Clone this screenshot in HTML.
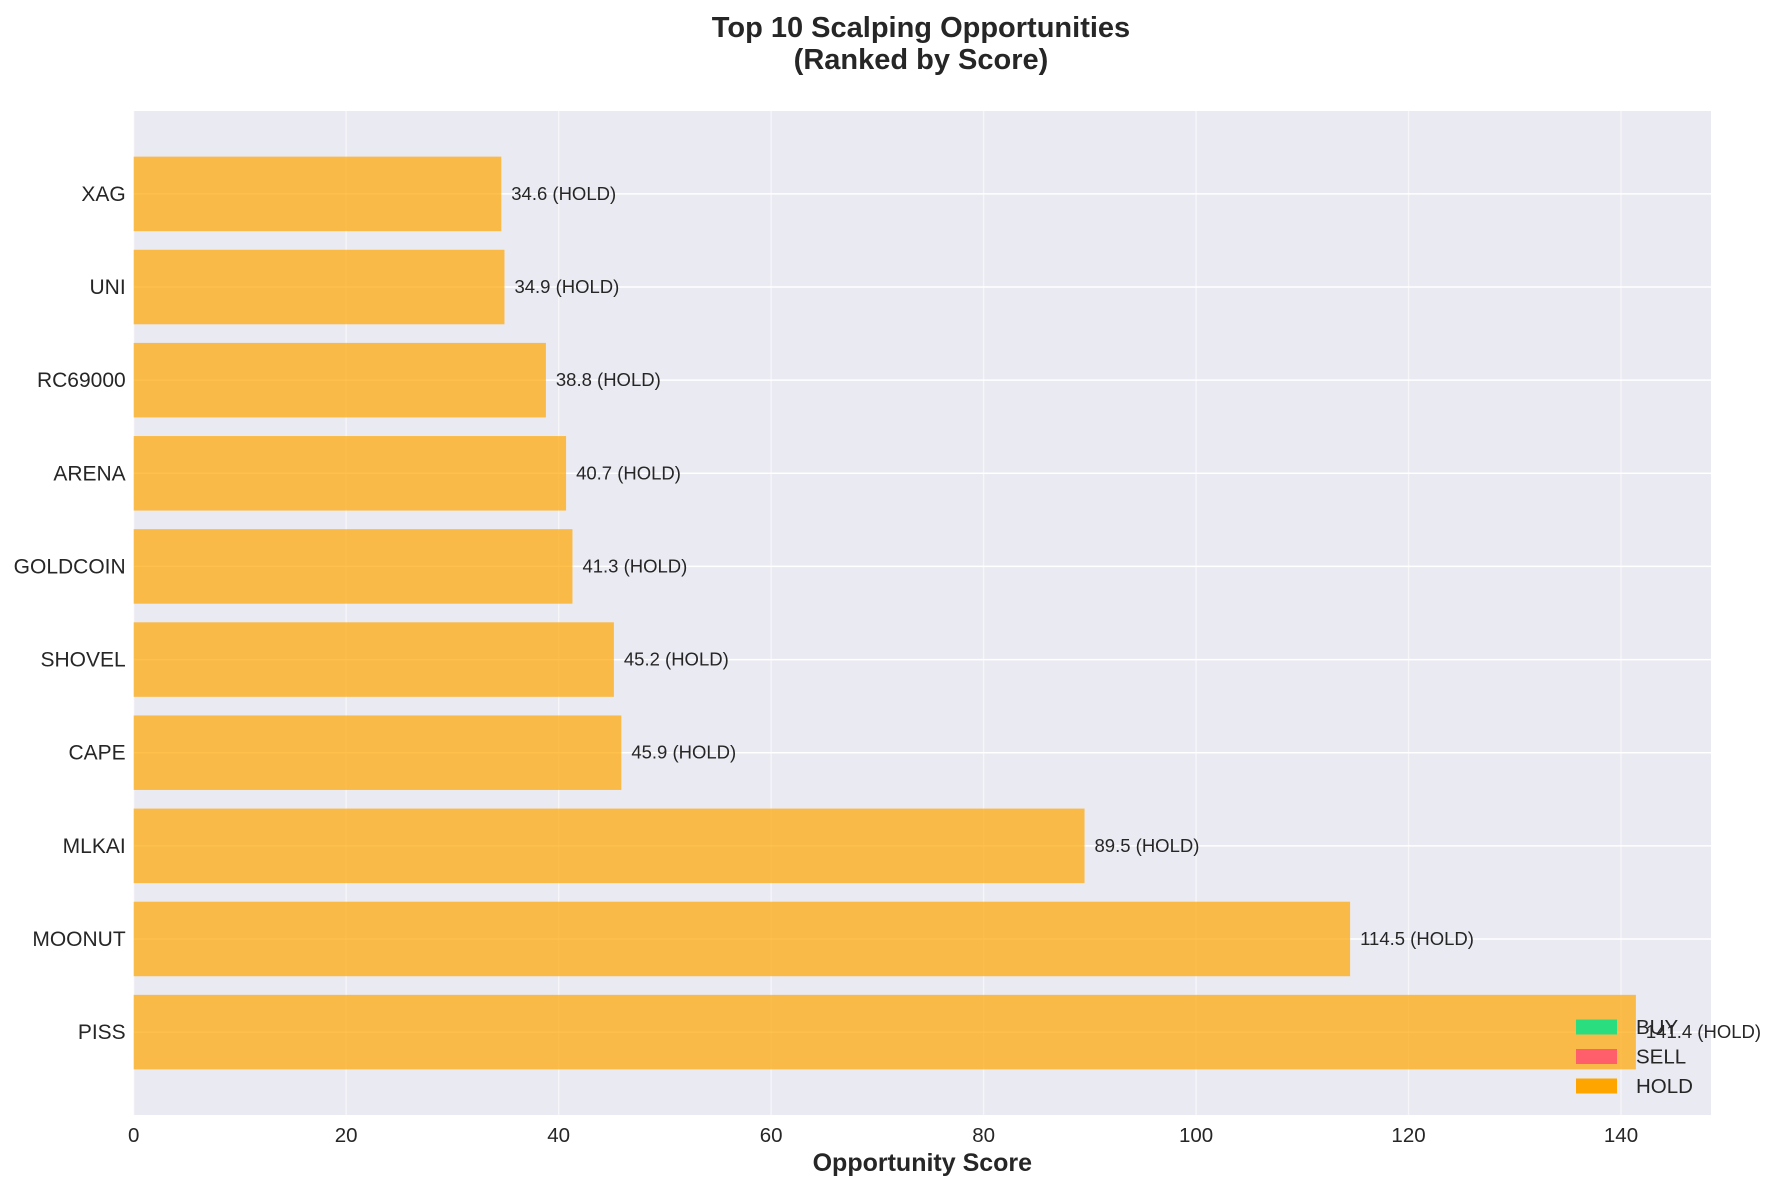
<!DOCTYPE html>
<html><head><meta charset="utf-8"><style>
body{margin:0;background:#fff;}
svg{display:block;font-family:"Liberation Sans",sans-serif;}
</style></head><body>
<svg id="chart" width="1777" height="1190"></svg>
<script>
const categories=["PISS","MOONUT","MLKAI","CAPE","SHOVEL","GOLDCOIN","ARENA","RC69000","UNI","XAG"];
const scores=[141.4,114.5,89.5,45.9,45.2,41.3,40.7,38.8,34.9,34.6];
const signals=["HOLD","HOLD","HOLD","HOLD","HOLD","HOLD","HOLD","HOLD","HOLD","HOLD"];
const xTicks=[0,20,40,60,80,100,120,140];
const legendLabels=["BUY","SELL","HOLD"];
const legendColors=["#2ade80","#ff5f6a","#ffa500"];

const NS="http://www.w3.org/2000/svg";
const svg=document.getElementById('chart');
const L=133.7,R=1711,T=111,B=1115;
const xMax=Math.max(...scores)*1.05;
const yMin=-0.89,yMax=categories.length-1+0.89;
function xs(v){return L+v/xMax*(R-L);}
function ys(i){return T+(yMax-i)/(yMax-yMin)*(B-T);}
function mk(tag,attrs,text){const e=document.createElementNS(NS,tag);for(const k in attrs)e.setAttribute(k,attrs[k]);if(text!==undefined)e.textContent=text;svg.appendChild(e);return e;}

let e=mk('rect',{x:L,y:T,width:R-L,height:B-T,fill:'#eaeaf2'});


xTicks.forEach(t=>{
  let g=mk('line',{x1:xs(t),x2:xs(t),y1:T,y2:B,stroke:'#fff','stroke-width':1.3,opacity:0.6});
  
  
  let l=mk('text',{x:xs(t),y:B+27,'font-size':20.5,'text-anchor':'middle',fill:'#262626'},String(t));
  
  
});
categories.forEach((c,i)=>{
  let g=mk('line',{x1:L,x2:R,y1:ys(i),y2:ys(i),stroke:'#fff','stroke-width':1.5});
  
  
});
const bh=0.8/(yMax-yMin)*(B-T);
categories.forEach((c,i)=>{
  let b=mk('rect',{x:L,y:ys(i)-bh/2,width:xs(scores[i])-L,height:bh,fill:'#ffa500','fill-opacity':0.7});
  
  
  let yl=mk('text',{x:L-8,y:ys(i)+7,'font-size':21,'text-anchor':'end',fill:'#262626'},c);
  
  
  let vl=mk('text',{x:xs(scores[i])+10,y:ys(i)+6,'font-size':18.5,fill:'#262626'},scores[i].toFixed(1)+' ('+signals[i]+')');
  
  
});
legendLabels.forEach((n,k)=>{
  const cy=1027+k*29.5;
  let p=mk('rect',{x:1576,y:cy-7.5,width:41,height:15,fill:legendColors[k]});
  
  
  let t=mk('text',{x:1636,y:cy+7,'font-size':20.5,fill:'#262626'},n);
  
  
});
let t1=mk('text',{x:921,y:37,'font-size':29,'font-weight':'bold','text-anchor':'middle',fill:'#262626'},'Top 10 Scalping Opportunities');


let t2=mk('text',{x:921,y:69,'font-size':29,'font-weight':'bold','text-anchor':'middle',fill:'#262626'},'(Ranked by Score)');


let xl=mk('text',{x:(L+R)/2,y:1171,'font-size':25,'font-weight':'bold','text-anchor':'middle',fill:'#262626'},'Opportunity Score');


</script>
</body></html>
